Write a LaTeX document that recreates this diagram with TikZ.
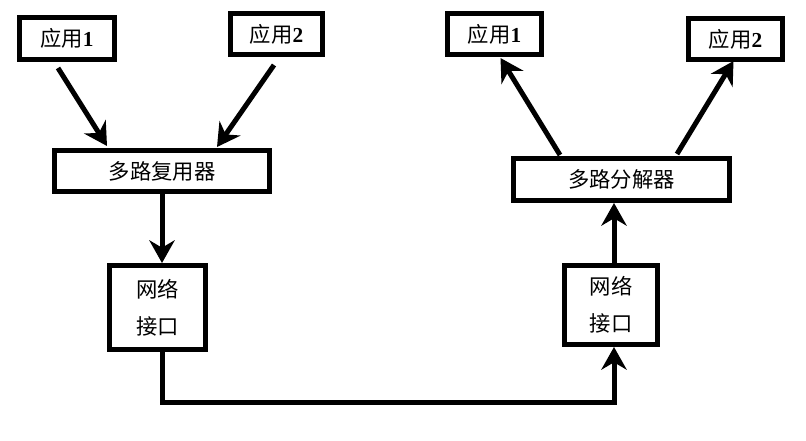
\documentclass[tikz,border=0pt]{standalone}
\usepackage{fontspec}
\setmainfont{Liberation Serif}
\newfontfamily\cjk{Noto Sans CJK SC}
\newcommand\appno[1]{{\rmfamily\bfseries #1}}
\usetikzlibrary{arrows.meta,calc}
\begin{document}
\begin{tikzpicture}[x=0.75pt,y=-0.75pt,>={Stealth[length=17pt,width=19pt]},
	box/.style={draw,line width=3.75pt,inner sep=0pt,align=center,font=\cjk\fontsize{16}{28}\selectfont},
	link/.style={->,line width=3.75pt}]
	\useasboundingbox (0,0) rectangle (806,441);
	% sending side
	\node[box,minimum width=71.25pt,minimum height=31.5pt] (appA) at (67,38.5) {应用\appno{1}};
	\node[box,minimum width=69pt,minimum height=30.75pt] (appB) at (276.5,34) {应用\appno{2}};
	\node[box,minimum width=161.25pt,minimum height=30.75pt] (mux) at (162,171) {多路复用器};
	\node[box,minimum width=72pt,minimum height=63pt] (netA) at (157.5,307.5) {网络\\接口};
	% receiving side
	\node[box,minimum width=70.5pt,minimum height=30.75pt] (appC) at (494.5,34) {应用\appno{1}};
	\node[box,minimum width=70.5pt,minimum height=30.75pt] (appD) at (735.5,39) {应用\appno{2}};
	\node[box,minimum width=162pt,minimum height=31.5pt] (demux) at (621.5,179.5) {多路分解器};
	\node[box,minimum width=69.75pt,minimum height=59.25pt] (netB) at (611,305) {网络\\接口};
	\coordinate (busA) at (162,402);
	\coordinate (busB) at (614,402);
	\draw[link] ($(appA.south)+(-9,6)$) -- ($(mux.north)+(-55,-2)$);
	\draw[link] ($(appB.south)+(-2.5,8)$) -- ($(mux.north)+(55,-1)$);
	\draw[link] (mux.south) -- (mux.south |- netA.north);
	\draw[link] (netA.south -| busA) -- (busA) -- (busB) -- (netB.south -| busB);
	\draw[link] (netB.north -| busB) -- (demux.south -| busB);
	\draw[link] ($(demux.north)+(-61.5,-1)$) -- ($(appC.south)+(6,1)$);
	\draw[link] ($(demux.north)+(55.5,-2)$) -- ($(appD.south)+(-2,-1)$);
\end{tikzpicture}
\end{document}
